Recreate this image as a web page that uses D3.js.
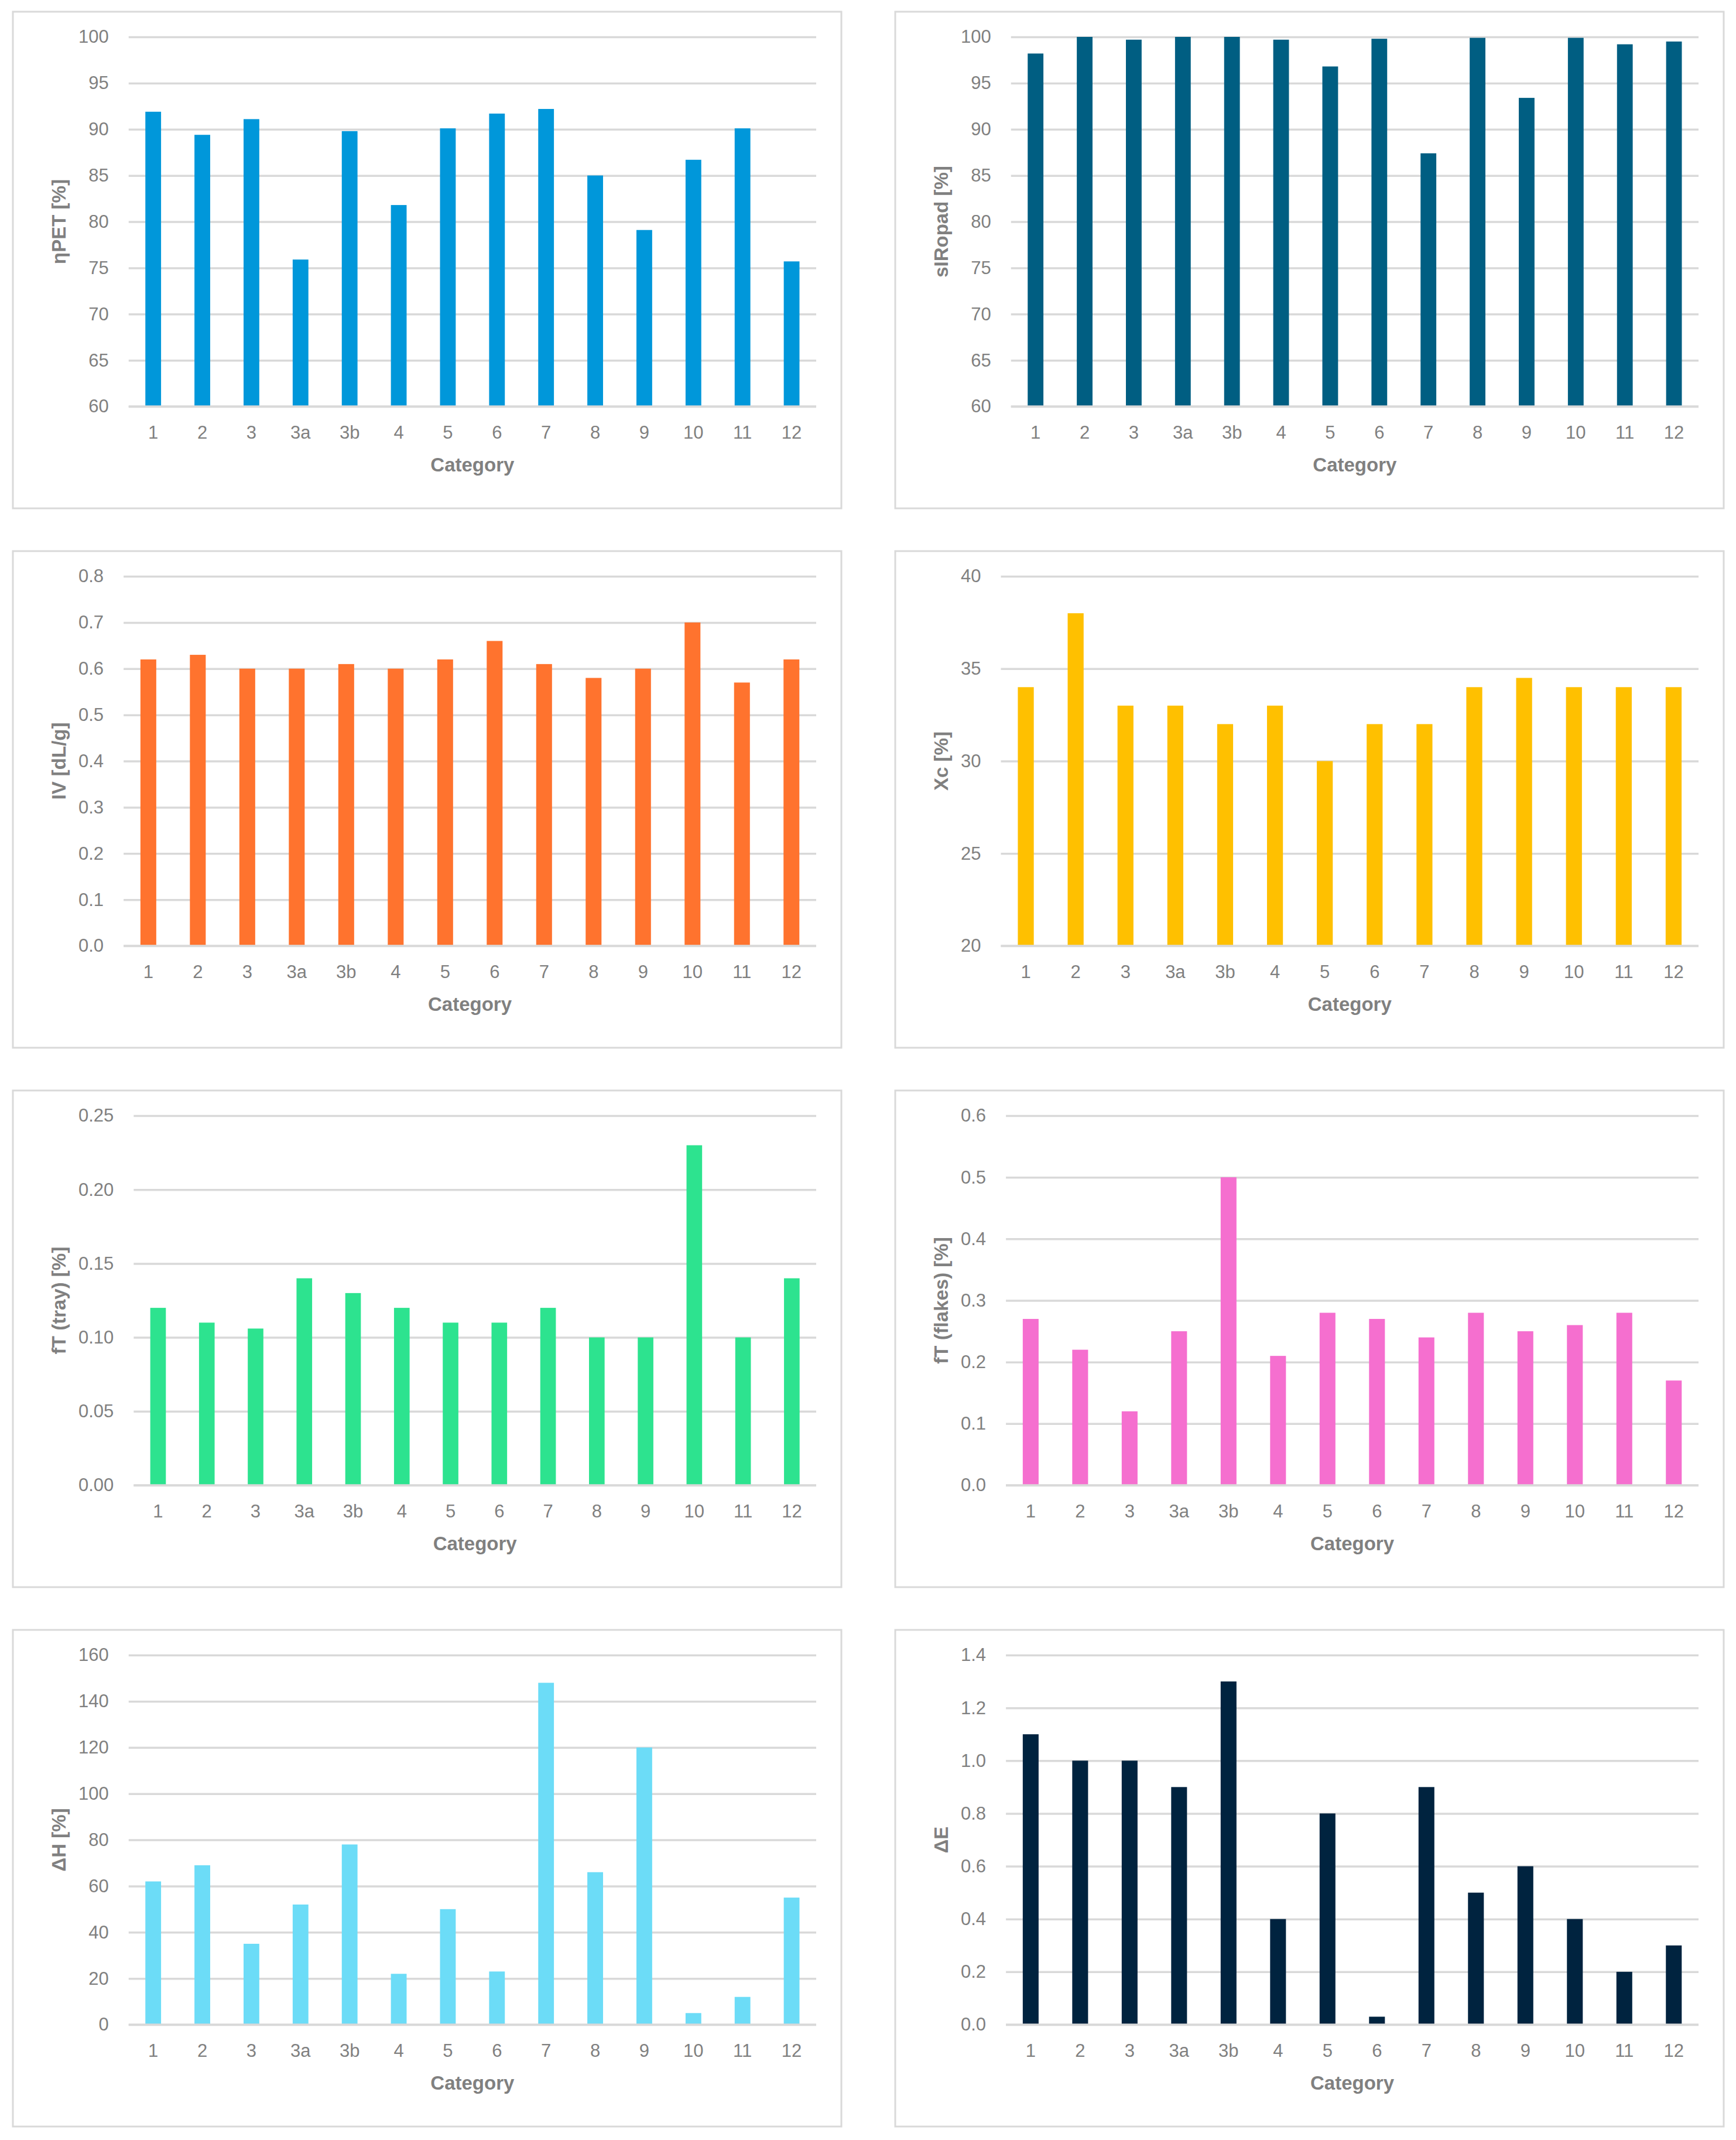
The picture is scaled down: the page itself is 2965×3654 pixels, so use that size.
<!DOCTYPE html>
<html lang="en">
<head>
  <meta charset="UTF-8">
  <title>Bar charts by category</title>
  <script src="https://d3js.org/d3.v7.min.js"></script>
  <style>
    body { margin: 0; background: #fff; }
    text { font-family: "Liberation Sans", Arial, sans-serif; fill: #808080; }
    .tick text { font-size: 31px; }
    .ytitle, .xtitle { font-size: 33px; font-weight: bold; }
  </style>
</head>
<body>
  <div id="chart"></div>
  <script>
    // data
    const categories = ["1", "2", "3", "3a", "3b", "4", "5", "6", "7", "8", "9", "10", "11", "12"];

    const etaPET   = [91.9, 89.4, 91.1, 75.9, 89.8, 81.8, 90.1, 91.7, 92.2, 85.0, 79.1, 86.7, 90.1, 75.7];
    const sIRopad  = [98.2, 100, 99.7, 100, 100, 99.7, 96.8, 99.8, 87.4, 99.9, 93.4, 99.9, 99.2, 99.5];
    const ivValues = [0.62, 0.63, 0.60, 0.60, 0.61, 0.60, 0.62, 0.66, 0.61, 0.58, 0.60, 0.70, 0.57, 0.62];
    const xcValues = [34, 38, 33, 33, 32, 33, 30, 32, 32, 34, 34.5, 34, 34, 34];
    const ftTray   = [0.12, 0.11, 0.106, 0.14, 0.13, 0.12, 0.11, 0.11, 0.12, 0.10, 0.10, 0.23, 0.10, 0.14];
    const ftFlakes = [0.27, 0.22, 0.12, 0.25, 0.50, 0.21, 0.28, 0.27, 0.24, 0.28, 0.25, 0.26, 0.28, 0.17];
    const deltaH   = [62, 69, 35, 52, 78, 22, 50, 23, 148, 66, 120, 5, 12, 55];
    const deltaE   = [1.1, 1.0, 1.0, 0.9, 1.3, 0.4, 0.8, 0.03, 0.9, 0.5, 0.6, 0.4, 0.2, 0.3];

    // y tick labels
    const ticksEta    = [60, 65, 70, 75, 80, 85, 90, 95, 100];
    const ticksSIR    = [60, 65, 70, 75, 80, 85, 90, 95, 100];
    const ticksIV     = [0, 0.1, 0.2, 0.3, 0.4, 0.5, 0.6, 0.7, 0.8];
    const ticksXc     = [20, 25, 30, 35, 40];
    const ticksTray   = [0, 0.05, 0.10, 0.15, 0.20, 0.25];
    const ticksFlakes = [0, 0.1, 0.2, 0.3, 0.4, 0.5, 0.6];
    const ticksDH     = [0, 20, 40, 60, 80, 100, 120, 140, 160];
    const ticksDE     = [0, 0.2, 0.4, 0.6, 0.8, 1.0, 1.2, 1.4];

    const panels = [
      {title: "ηPET [%]",        values: etaPET,   ticks: ticksEta,    dec: 0, color: "#0097da"},
      {title: "sIRopad [%]",     values: sIRopad,  ticks: ticksSIR,    dec: 0, color: "#005e82"},
      {title: "IV [dL/g]",       values: ivValues, ticks: ticksIV,     dec: 1, color: "#ff732e"},
      {title: "Xc [%]",          values: xcValues, ticks: ticksXc,     dec: 0, color: "#ffc000"},
      {title: "fT (tray) [%]",   values: ftTray,   ticks: ticksTray,   dec: 2, color: "#2de38f"},
      {title: "fT (flakes) [%]", values: ftFlakes, ticks: ticksFlakes, dec: 1, color: "#f56fcf"},
      {title: "ΔH [%]",          values: deltaH,   ticks: ticksDH,     dec: 0, color: "#6cdcf7"},
      {title: "ΔE",              values: deltaE,   ticks: ticksDE,     dec: 1, color: "#00233f"}
    ];

    const W = 2965, H = 3654;
    const boxW = 1415, boxH = 848;
    const cols = [22, 1529], rows = [20, 941, 1862, 2783];
    const gridColor = "#d9d9d9";

    const svg = d3.select("#chart").append("svg")
      .attr("width", W)
      .attr("height", H);

    panels.forEach((p, i) => {
      const g = svg.append("g")
        .attr("transform", `translate(${cols[i % 2]},${rows[Math.floor(i / 2)]})`);

      g.append("rect")
        .attr("width", boxW).attr("height", boxH)
        .attr("fill", "#fff")
        .attr("stroke", gridColor).attr("stroke-width", 3);

      const fmt = d3.format(`.${p.dec}f`);

      // plot area starts after the widest tick label, like Excel does
      let maxW = 0;
      p.ticks.forEach(t => {
        const tmp = g.append("g").attr("class", "tick").append("text").text(fmt(t));
        maxW = Math.max(maxW, tmp.node().getComputedTextLength());
        tmp.node().parentNode.remove();
      });
      const x0 = 112 + maxW + 34, x1 = 1372, y0 = 43, y1 = 674;

      const x = d3.scaleBand().domain(categories).range([x0, x1]);
      const y = d3.scaleLinear()
        .domain([p.ticks[0], p.ticks[p.ticks.length - 1]])
        .range([y1, y0]);

      // gridlines + y labels
      const yAxis = g.append("g")
        .attr("transform", `translate(${x0},0)`)
        .call(d3.axisLeft(y).tickValues(p.ticks).tickFormat(fmt)
          .tickSize(-(x1 - x0)).tickPadding(34));
      yAxis.select(".domain").remove();
      yAxis.selectAll("line").attr("stroke", gridColor).attr("stroke-width", 3.5);
      yAxis.selectAll("text").attr("fill", "#808080");

      const bw = x.bandwidth() * 0.32;
      g.selectAll(".bar")
        .data(p.values)
        .enter()
        .append("rect")
        .attr("class", "bar")
        .attr("x", (d, j) => x(categories[j]) + (x.bandwidth() - bw) / 2)
        .attr("y", d => y(d))
        .attr("width", bw)
        .attr("height", d => y(p.ticks[0]) - y(d))
        .attr("fill", p.color);

      // category axis (its line drawn over the bars)
      const xAxis = g.append("g")
        .attr("transform", `translate(0,${y1})`)
        .call(d3.axisBottom(x).tickSize(0).tickPadding(33));
      xAxis.select(".domain").remove();
      xAxis.selectAll("text").attr("fill", "#808080");
      g.append("line")
        .attr("x1", x0).attr("x2", x1)
        .attr("y1", y1).attr("y2", y1)
        .attr("stroke", gridColor).attr("stroke-width", 3.5);

      g.append("text")
        .attr("class", "xtitle")
        .attr("x", (x0 + x1) / 2)
        .attr("y", y1 + 111)
        .attr("text-anchor", "middle")
        .text("Category");

      g.append("text")
        .attr("class", "ytitle")
        .attr("transform", `translate(78,${(y0 + y1) / 2}) rotate(-90)`)
        .attr("text-anchor", "middle")
        .attr("dy", "0.35em")
        .text(p.title);
    });
  </script>
</body>
</html>
